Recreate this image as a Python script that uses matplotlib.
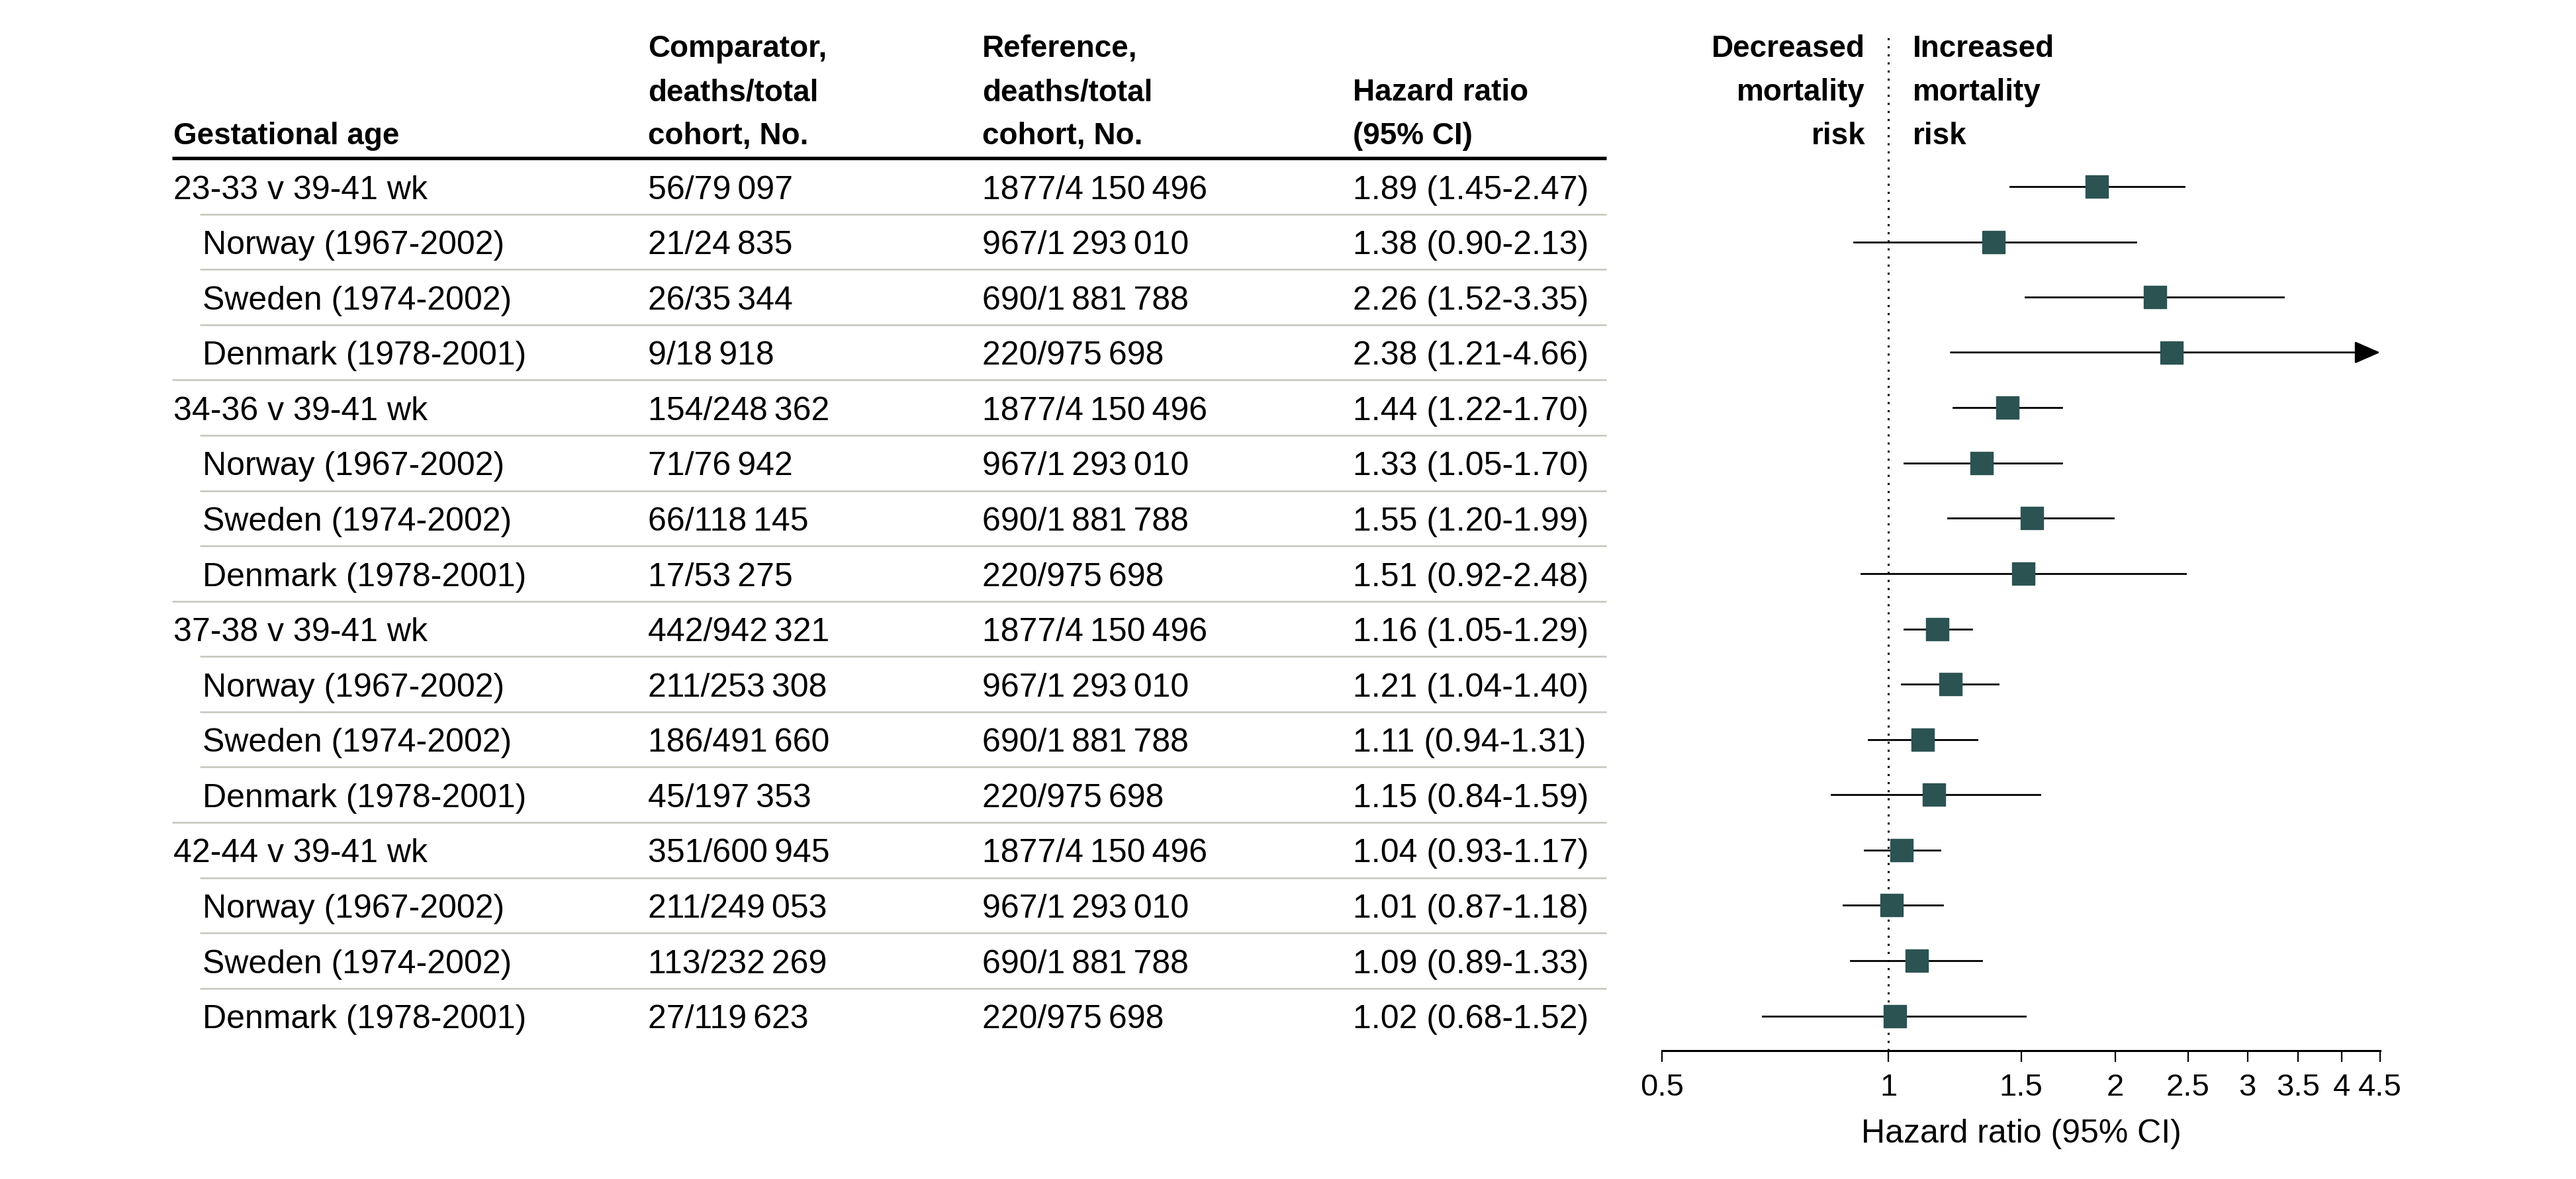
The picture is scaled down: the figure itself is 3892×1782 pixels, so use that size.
# 森林图：不同孕周与死亡风险的风险比

from matplotlib import pyplot as plt

plt.rcParams['font.family'] = ['Liberation Sans', 'DejaVu Sans']

labels = ["23-33 v 39-41 wk", "Norway (1967-2002)", "Sweden (1974-2002)", "Denmark (1978-2001)",
          "34-36 v 39-41 wk", "Norway (1967-2002)", "Sweden (1974-2002)", "Denmark (1978-2001)",
          "37-38 v 39-41 wk", "Norway (1967-2002)", "Sweden (1974-2002)", "Denmark (1978-2001)",
          "42-44 v 39-41 wk", "Norway (1967-2002)", "Sweden (1974-2002)", "Denmark (1978-2001)"]
is_group = [True, False, False, False] * 4
comparator = ["56/79\u2009097", "21/24\u2009835", "26/35\u2009344", "9/18\u2009918",
              "154/248\u2009362", "71/76\u2009942", "66/118\u2009145", "17/53\u2009275",
              "442/942\u2009321", "211/253\u2009308", "186/491\u2009660", "45/197\u2009353",
              "351/600\u2009945", "211/249\u2009053", "113/232\u2009269", "27/119\u2009623"]
reference = ["1877/4\u2009150\u2009496", "967/1\u2009293\u2009010", "690/1\u2009881\u2009788", "220/975\u2009698"] * 4
hr = [1.89, 1.38, 2.26, 2.38, 1.44, 1.33, 1.55, 1.51, 1.16, 1.21, 1.11, 1.15, 1.04, 1.01, 1.09, 1.02]
lo = [1.45, 0.90, 1.52, 1.21, 1.22, 1.05, 1.20, 0.92, 1.05, 1.04, 0.94, 0.84, 0.93, 0.87, 0.89, 0.68]
hi = [2.47, 2.13, 3.35, 4.66, 1.70, 1.70, 1.99, 2.48, 1.29, 1.40, 1.31, 1.59, 1.17, 1.18, 1.33, 1.52]
xticks = [0.5, 1, 1.5, 2, 2.5, 3, 3.5, 4, 4.5]
xtick_labels = ["0.5", "1", "1.5", "2", "2.5", "3", "3.5", "4", "4.5"]

W, H = 3892, 1783
ROW0, STEP = 283, 83.57   # 第一行中心 / 行距 (像素)
box_color = "#2B5352"
grid_color = "#C6C9BE"

fig = plt.figure(figsize=(W / 100, H / 100), dpi=100)

# 表格部分：x 用像素，y 用行号
tab = fig.add_axes([0, 0, 1, 1])
tab.set_xlim(0, W)
tab.set_ylim((H - ROW0) / STEP, -ROW0 / STEP)
tab.axis("off")


def r(px):
    return (px - ROW0) / STEP


x_grp, x_sub, x_cmp, x_ref, x_hr = 262, 306, 979, 1484, 2044
line_l, line_sub, line_r = 260, 302, 2427

head_kw = dict(fontsize=33, fontweight="bold", va="baseline")
base1, base2, base3 = r(86), r(152), r(218)
tab.text(x_grp, base3, "Gestational age", **head_kw)
for x, lines in [(x_cmp, ["Comparator,", "deaths/total", "cohort, No."]),
                 (x_ref, ["Reference,", "deaths/total", "cohort, No."])]:
    for b, t in zip([base1, base2, base3], lines):
        tab.text(x, b, t, **head_kw)
tab.text(x_hr, base2, "Hazard ratio", **head_kw)
tab.text(x_hr, base3, "(95% CI)", **head_kw)
tab.plot([line_l, line_r], [r(240), r(240)], color="black", lw=3.8, solid_capstyle="butt")

n = len(labels)
for i in range(n):
    yb = i + 0.21
    tab.text(x_grp if is_group[i] else x_sub, yb, labels[i], fontsize=36, va="baseline")
    tab.text(x_cmp, yb, comparator[i], fontsize=36, va="baseline")
    tab.text(x_ref, yb, reference[i], fontsize=36, va="baseline")
    tab.text(x_hr, yb, "{:.2f} ({:.2f}-{:.2f})".format(hr[i], lo[i], hi[i]), fontsize=36, va="baseline")
    if i < n - 1:
        start = line_sub if not is_group[i + 1] else line_l
        tab.plot([start, line_r], [i + 0.5, i + 0.5], color=grid_color, lw=1.9, solid_capstyle="butt")

# 右侧森林图
x0, x1 = 2511, 3596
ytop, ybot = 50, 1589
ax = fig.add_axes([x0 / W, 1 - ybot / H, (x1 - x0) / W, (ybot - ytop) / H])
ax.set_xscale("log")
ax.set_xlim(0.5, 4.5)
ax.set_ylim(r(ybot), r(ytop))
ax.patch.set_alpha(0)
for s in ["top", "left", "right"]:
    ax.spines[s].set_visible(False)
ax.spines["bottom"].set_linewidth(2.2)
ax.set_yticks([])
ax.set_xticks(xticks)
ax.set_xticklabels(xtick_labels, fontsize=34)
ax.minorticks_off()
ax.tick_params(axis="x", length=12, width=1.6, pad=12, direction="out")
ax.set_xlabel("Hazard ratio (95% CI)", fontsize=36, labelpad=18)

ax.axvline(1, color="black", lw=2.2, linestyle=(0, (1, 3)))

xmax = ax.get_xlim()[1]
for i in range(n):
    if hi[i] > xmax:
        ax.annotate("", xy=(xmax, i), xytext=(lo[i], i),
                    arrowprops=dict(arrowstyle="-|>,head_length=0.8,head_width=0.35",
                                    color="black", lw=2, shrinkA=0, shrinkB=0, mutation_scale=30),
                    annotation_clip=False)
    else:
        ax.plot([lo[i], hi[i]], [i, i], color="black", lw=2)
    ax.plot(hr[i], i, marker="s", markersize=24, color=box_color, zorder=3)

kw = dict(fontsize=33, fontweight="bold", va="baseline")
for b, t in zip([base1, base2, base3], ["Decreased", "mortality", "risk"]):
    tab.text(2818, b, t, ha="right", **kw)
for b, t in zip([base1, base2, base3], ["Increased", "mortality", "risk"]):
    tab.text(2890, b, t, ha="left", **kw)

plt.savefig("out.png", dpi=100)
